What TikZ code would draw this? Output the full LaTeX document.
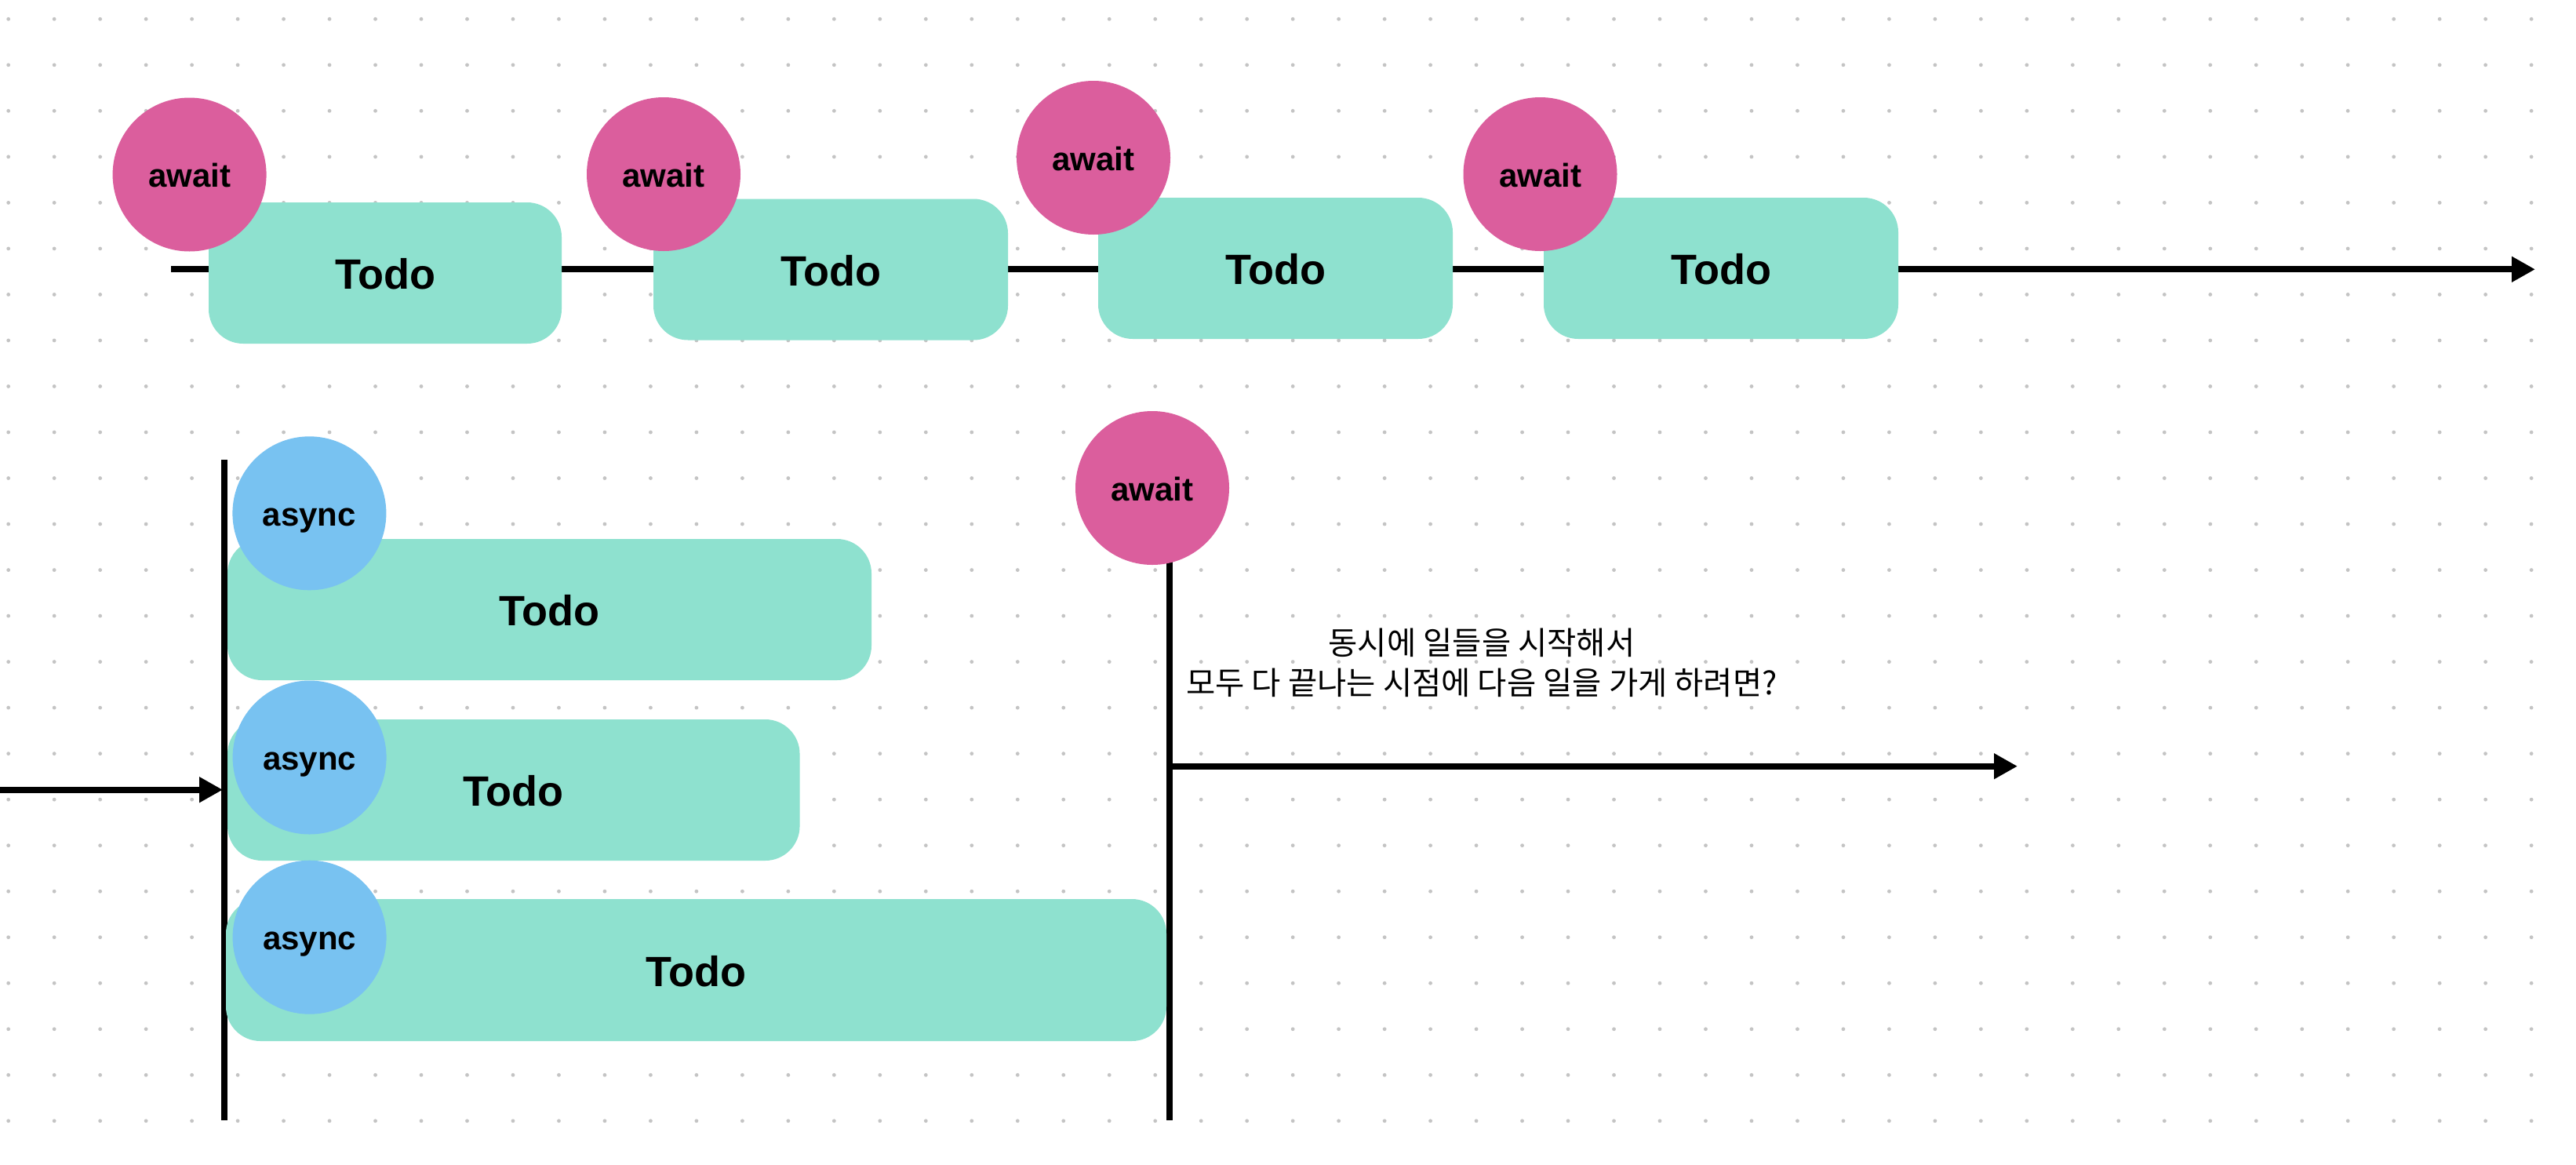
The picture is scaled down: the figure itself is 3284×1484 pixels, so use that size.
\documentclass[tikz,border=0pt]{standalone}
\usepackage{fontspec}
\setmainfont{Liberation Sans}
\newfontfamily\krfont{Noto Sans CJK KR}
\usetikzlibrary{arrows.meta}
\definecolor{pinkc}{RGB}{219,94,157}
\definecolor{tealc}{RGB}{142,225,207}
\definecolor{bluec}{RGB}{120,194,241}
\definecolor{dotc}{RGB}{196,196,196}
\begin{document}
\begin{tikzpicture}[x=1pt,y=-1pt,
  todobox/.style={fill=tealc, rounded corners=44pt, inner sep=0pt, minimum height=180pt,
    font=\fontsize{54}{60}\selectfont\bfseries, text height=41pt, text depth=0pt},
  awaitc/.style={circle, fill=pinkc, minimum size=196pt, inner sep=0pt,
    font=\fontsize{42}{48}\selectfont\bfseries, text height=32pt, text depth=0pt},
  asyncc/.style={awaitc, fill=bluec},
  conn/.style={line width=8pt},
  arr/.style={conn, -{Triangle[length=30pt,width=31pt]}},
  note/.style={font=\krfont\fontsize{40.5}{51}\selectfont, align=center, inner sep=0pt}
]
\useasboundingbox[fill=white] (0,0) rectangle (3284,1484);
% dot grid
\foreach \i in {0,...,55}{
  \foreach \j in {0,...,24}{
    \fill[dotc] ({10.7+58.48*\i},{24.3+58.52*\j}) circle (2.4);
  }
}
% coordinates
\coordinate (tstart) at (218,343.3);
\coordinate (tend) at (3232,343.3);
\coordinate (lbtop) at (285.5,586);
\coordinate (lbbot) at (285.5,1428);
\coordinate (instart) at (0,1006.7);
\coordinate (inend) at (284,1006.7);
\coordinate (rbtop) at (1490.5,700);
\coordinate (rbbot) at (1490.5,1428);
\coordinate (outstart) at (1490.5,976.7);
\coordinate (outend) at (2572,976.7);
% connectors
\draw[arr] (tstart) -- (tend);
\draw[conn] (lbtop) -- (lbbot);
\draw[arr] (instart) -- (inend);
\draw[conn] (rbtop) -- (rbbot);
\draw[arr] (outstart) -- (outend);
% top row
\node[todobox, minimum width=450pt] (t1) at (491,348) {Todo};
\node[todobox, minimum width=452pt] (t2) at (1059,343.5) {Todo};
\node[todobox, minimum width=452pt] (t3) at (1626,342) {Todo};
\node[todobox, minimum width=452pt] (t4) at (2194,342) {Todo};
\node[awaitc] (a1) at (241.6,222.5) {await};
\node[awaitc] (a2) at (846,222) {await};
\node[awaitc] (a3) at (1394,201) {await};
\node[awaitc] (a4) at (1963.5,222) {await};
% bottom
\node[todobox, minimum width=821pt] (b1) at (700.5,777) {Todo};
\node[todobox, minimum width=729.5pt] (b2) at (654.8,1007) {Todo};
\node[todobox, minimum width=1199pt, minimum height=181pt] (b3) at (887.5,1236.5) {Todo};
\node[asyncc] (s1) at (394.4,654.3) {async};
\node[asyncc] (s2) at (394.6,965.5) {async};
\node[asyncc] (s3) at (394.6,1194.7) {async};
\node[awaitc] (a5) at (1469,622) {await};
\node[note] (txt) at (1889,845) {동시에 일들을 시작해서\\모두 다 끝나는 시점에 다음 일을 가게 하려면?};
\end{tikzpicture}
\end{document}
